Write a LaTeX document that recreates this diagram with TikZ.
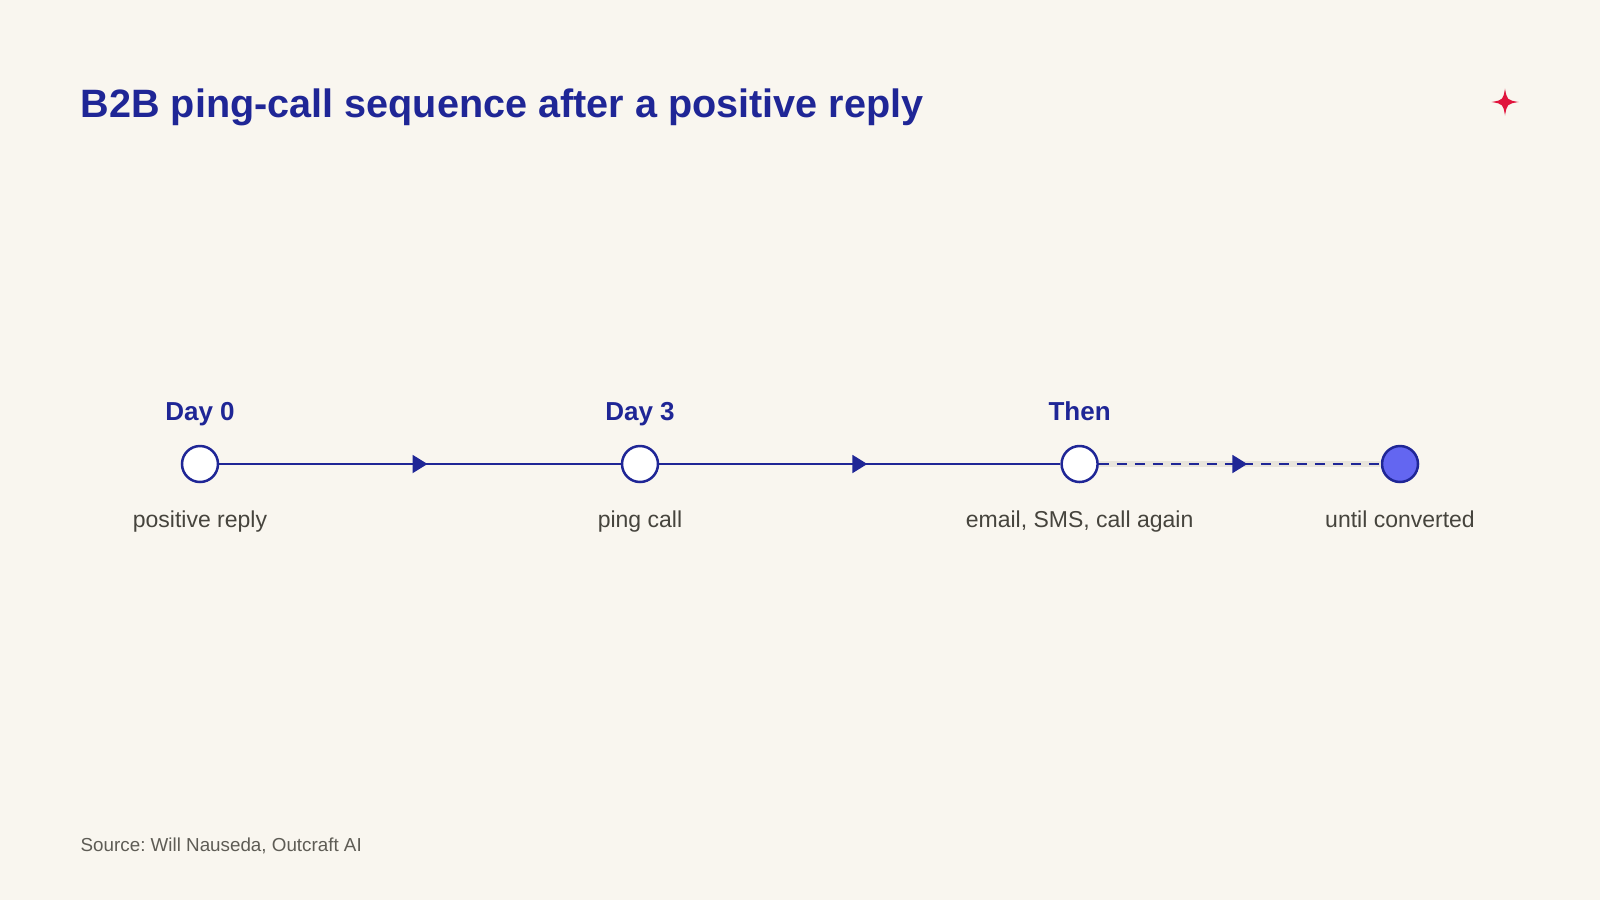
\documentclass[tikz,border=0pt]{standalone}
\usepackage{fontspec}
\setmainfont{Liberation Sans}
\usetikzlibrary{arrows.meta,decorations.markings}
\definecolor{bgc}{HTML}{F9F6EF}
\definecolor{navy}{HTML}{1F2696}
\definecolor{fillblue}{HTML}{6366F1}
\definecolor{txtgray}{HTML}{46443D}
\definecolor{srcgray}{HTML}{5E5C55}
\definecolor{trackc}{HTML}{E8E4DC}
\definecolor{starred}{HTML}{E0143C}
\frenchspacing
\tikzset{
  stepdot/.style={circle, draw=navy, line width=2.5pt, fill=white, minimum size=36pt, inner sep=0pt},
  enddot/.style={stepdot, fill=fillblue},
  daylabel/.style={anchor=base, text=navy, font=\fontsize{26}{30}\selectfont\bfseries},
  sublabel/.style={anchor=base, text=txtgray, font=\fontsize{23}{27}\selectfont},
  midarrow/.style={postaction={decorate}, decoration={markings,
     mark=at position 0.5 with {\arrow[xshift=7.5pt]{Triangle[length=15pt,width=18pt]}}}},
  link/.style={draw=navy, line width=2pt, midarrow},
  dashlink/.style={link, dash pattern=on 10pt off 8pt},
  track/.style={draw=trackc, line width=6pt},
}
\begin{document}
\begin{tikzpicture}[x=1pt,y=-1pt]
\fill[bgc] (0,0) rectangle (1600,900);
\useasboundingbox (0,0) rectangle (1600,900);
\node[anchor=base west, text=navy, inner sep=0pt, font=\fontsize{39.6}{46}\selectfont\bfseries] (title) at (80.5,117.7) {B2B ping-call sequence after a positive reply};
\fill[starred] (1505,88.5) .. controls (1507,100) .. (1518.5,102) .. controls (1507,104) .. (1505,115.5) .. controls (1503,104) .. (1491.5,102) .. controls (1503,100) .. cycle;
\node[stepdot] (n1) at (200,464) {};
\node[stepdot] (n2) at (640,464) {};
\node[stepdot] (n3) at (1079.6,464) {};
\node[enddot] (n4) at (1400,464) {};
\draw[track] (n3.east) -- (n4.west);
\draw[link] (n1) -- (n2);
\draw[link] (n2) -- (n3);
\draw[dashlink] (n3) -- (n4);
\node[daylabel] (d1) at (200,420) {Day 0};
\node[daylabel] (d2) at (640,420) {Day 3};
\node[daylabel] (d3) at (1079.6,420) {Then};
\node[sublabel] (s1) at (200,527.5) {positive reply};
\node[sublabel] (s2) at (640,527.5) {ping call};
\node[sublabel] (s3) at (1079.6,527.5) {email, SMS, call again};
\node[sublabel] (s4) at (1400,527.5) {until converted};
\node[anchor=base west, inner sep=0pt, text=srcgray, font=\fontsize{18.8}{22}\selectfont] (src) at (80.5,851.7) {Source: Will Nauseda, Outcraft AI};
\end{tikzpicture}
\end{document}
